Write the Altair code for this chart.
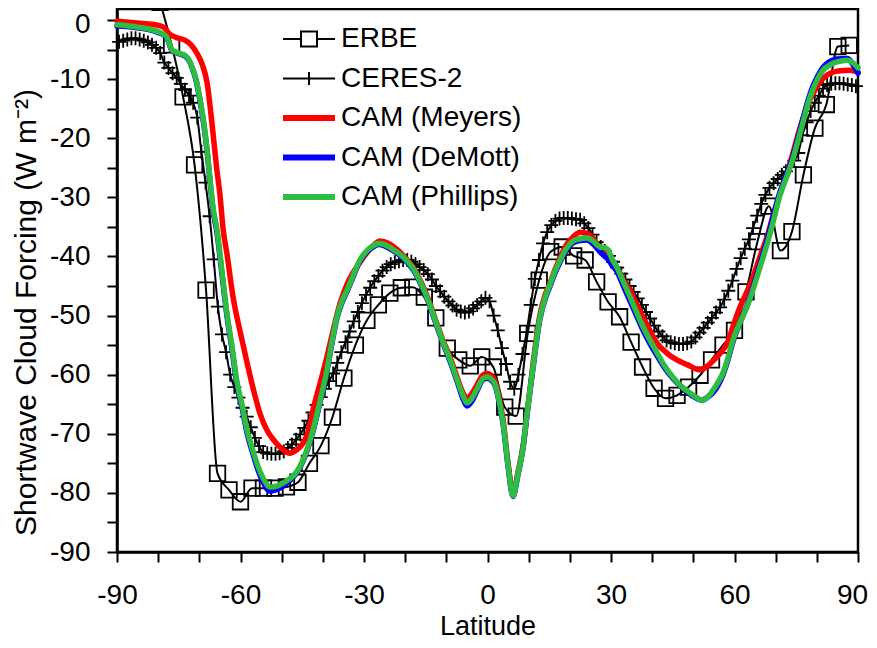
import altair as alt
import pandas as pd

# ---------------- data ----------------
series_names = ["ERBE", "CERES-2", "CAM (Meyers)", "CAM (DeMott)", "CAM (Phillips)"]
series_colors = ["#000000", "#000000", "#FF0000", "#0000FF", "#2EBD40"]

erbe_lat = [-87.86, -85.10, -82.31, -79.53, -76.74, -73.95, -71.16, -68.37, -65.58, -62.79,
            -60.00, -57.21, -54.42, -51.63, -48.84, -46.04, -43.25, -40.46, -37.67, -34.88,
            -32.09, -29.30, -26.51, -23.72, -20.93, -18.14, -15.35, -12.56, -9.77, -6.98,
            -4.19, -1.40, 1.40, 4.19, 6.98, 9.77, 12.56, 15.35, 18.14, 20.93,
            23.72, 26.51, 29.30, 32.09, 34.88, 37.67, 40.46, 43.25, 46.04, 48.84,
            51.63, 54.42, 57.21, 60.00, 62.79, 65.58, 68.37, 71.16, 73.95, 76.74,
            79.53, 82.31, 85.10, 87.86]
erbe_val = [18, 14, 9, 3, -4.2, -13, -24.5, -45.7, -76.7, -79.5,
            -81.5, -79.2, -79.2, -79.2, -79, -78.2, -75, -72, -67.2, -60.6,
            -55, -50.8, -48.2, -46.2, -45.3, -45.2, -46.9, -50.4, -55.5, -57.5,
            -58.5, -57, -58.7, -65.5, -67, -53, -44, -39.2, -38.4, -39.9,
            -40.6, -44.3, -47.7, -50.2, -54.5, -58.7, -62.3, -64, -63.5, -62.1,
            -60.1, -57.5, -55, -52.5, -46, -37.5, -31.5, -39, -35.8, -26.2,
            -18.3, -14.3, -4.5, -4.3]

ceres_lat = [-89.5 + i for i in range(180)]
ceres_val = [
    -3.7, -3.5, -3.3, -3.1, -3.1, -3.3, -3.5, -3.8, -4.2, -4.7,
    -5.6, -7.2, -8.1, -9.0, -9.8, -10.8, -11.8, -12.8, -14.0, -16.5,
    -22.3, -27.5, -33.2, -40.5, -48.5, -53.2, -56.2, -60.0, -62.1, -63.9,
    -65.6, -67.1, -68.9, -70.7, -72.1, -73.1, -73.3, -73.4, -73.4, -73.3,
    -73.0, -72.4, -71.8, -71.0, -70.1, -69.0, -67.8, -66.4, -65.1, -63.8,
    -62.4, -61.1, -59.8, -58.0, -56.2, -54.5, -52.7, -51.0, -49.4, -47.9,
    -46.5, -45.3, -44.2, -43.3, -42.4, -41.8, -41.3, -41.0, -40.8, -40.6,
    -40.6, -40.9, -41.3, -41.8, -42.3, -43.0, -43.9, -45.0, -45.9, -46.8,
    -47.6, -48.3, -49.0, -49.3, -49.5, -49.3, -48.8, -48.2, -47.6, -47.0,
    -47.6, -50.0, -52.5, -55.5, -58.2, -61.2, -62.4, -60.0, -56.5, -52.8,
    -48.2, -43.8, -40.6, -37.8, -35.9, -34.7, -34.0, -33.6, -33.5, -33.5,
    -33.6, -33.7, -33.8, -34.4, -35.2, -36.3, -37.6, -38.4, -39.1, -39.9,
    -40.9, -41.9, -42.9, -43.9, -45.0, -46.0, -47.1, -48.2, -49.4, -50.5,
    -51.7, -52.7, -53.5, -54.2, -54.5, -54.7, -54.8, -54.8, -54.7, -54.4,
    -53.7, -52.9, -52.1, -51.2, -50.4, -49.5, -48.6, -47.3, -45.8, -44.1,
    -42.1, -40.3, -38.7, -37.1, -35.2, -33.1, -31.1, -29.6, -28.4, -27.6,
    -26.9, -26.2, -25.6, -24.9, -23.8, -22.5, -19.5, -17.3, -15.4, -14.0,
    -12.8, -11.6, -11.0, -10.8, -10.7, -10.7, -10.8, -10.9, -11.0, -11.2]

meyers_lat = [-90, -85, -80, -78.5, -77.5, -76.5, -75, -73.5, -72, -70.6,
              -69.3, -68.1, -67.4, -66.7, -65.8, -65, -64.2, -63.3, -61.8, -60,
              -58.4, -56.5, -55.3, -53.5, -52, -50, -48, -46.5, -44.8, -43.5,
              -42.4, -40.5, -39, -37.5, -35.8, -34, -32.7, -31, -29.3, -27.5,
              -26.1, -24, -22, -20, -18.1, -16, -14, -12.5, -10.8, -9,
              -7.4, -6, -5, -3.8, -2.6, -1, 0, 1, 1.8, 3,
              3.8, 5, 6.2, 7.4, 8.6, 9.8, 11, 12.7, 14, 15.2,
              16.5, 17.6, 19, 20.8, 22.5, 24.9, 26.5, 28, 29.5, 31.4,
              33, 34.6, 36.2, 37.8, 39.5, 41.2, 43.5, 46, 48.5, 51.6,
              53.5, 55.7, 57, 58.2, 59.8, 61.3, 63, 64.5, 66.2, 67.9,
              69.5, 71.1, 72.7, 74.2, 75.6, 77.6, 80, 82.5, 85.6, 88,
              90]
meyers_val = [-0.2, -0.5, -0.9, -1.3, -2.2, -2.7, -3.1, -3.4, -4.2, -5.6,
              -7.5, -10.7, -14.5, -19, -25, -29.5, -35.5, -39.5, -46.9, -53,
              -58, -63.5, -66.5, -69.5, -71, -72.5, -73.3, -72.8, -71.6, -69.5,
              -66, -61, -57, -52.5, -47.9, -44.5, -42.8, -41, -39.4, -38,
              -37.4, -37.8, -38.8, -40.2, -41.8, -44.5, -47.9, -51, -54.2, -57.2,
              -60.4, -63, -64, -63.2, -61.8, -60, -59.8, -60.2, -61, -64.5,
              -67.7, -75, -80.1, -76.5, -72.2, -65.5, -58.5, -50, -46.5, -44.5,
              -42, -40.3, -38.2, -36.7, -35.9, -36.4, -37.8, -38.9, -40, -41.8,
              -44, -45.7, -48, -50.3, -52.6, -54.7, -56.3, -57.5, -58.3, -59.2,
              -58.5, -57, -56, -54.7, -51.5, -48.6, -46, -43.5, -40, -36.7,
              -32.8, -29.3, -26, -22.5, -19, -14.7, -11.3, -9.3, -8.6, -8.5,
              -8.8]

phillips_lat = [-90, -85, -80, -78, -76.6, -74.5, -73.5, -72.5, -71.8, -70.8,
                -69.8, -68.9, -68.1, -67.4, -66.7, -65.7, -64.5, -63.3, -62, -60.9,
                -59.5, -58.4, -57, -56, -54.5, -52.8, -51, -48.7, -47, -45.6,
                -44, -42.4, -40.7, -39, -37.8, -36.6, -35.3, -34.1, -32.5, -31,
                -29.5, -28, -26.5, -25, -23, -21.3, -19.5, -18.1, -16, -14,
                -12.5, -10.8, -9, -7.4, -6, -5, -3.8, -2.6, -1, 0,
                1, 1.8, 3, 3.8, 5, 6.2, 7.4, 8.6, 9.8, 11,
                12.7, 14, 15.2, 16.5, 17.6, 19, 20.8, 22.5, 24.2, 25.5,
                27.3, 28.5, 29.3, 30.3, 31.4, 33, 34.6, 36.2, 37.8, 39.5,
                41.2, 43, 45, 47, 49.2, 50.8, 52, 53.5, 54.8, 56,
                57.2, 58.4, 59.6, 61.3, 63, 64.6, 66.2, 67.8, 69.3, 71.1,
                72.7, 74.2, 75.2, 76.6, 78, 79, 80.3, 81.5, 83.2, 84.9,
                87.5, 89, 90]
phillips_val = [-0.8, -1.2, -2, -2.8, -5.1, -5.7, -6, -6.8, -7.9, -10,
                -13.5, -17.5, -22, -27, -31.6, -35.5, -42.5, -49.6, -55.5, -61,
                -65.5, -69.4, -72.8, -75, -77.5, -79, -78.8, -77.9, -77, -75.6,
                -73, -69.4, -64.5, -59.2, -54.5, -50.3, -47.5, -45.7, -43, -40.6,
                -39.2, -38.3, -37.8, -38, -38.8, -39.6, -40.8, -42, -44.8, -48.2,
                -51.2, -54.5, -57.6, -60.8, -63.5, -64.8, -64, -62.5, -60.6, -60.4,
                -60.8, -61.6, -65, -68.2, -75.3, -80.5, -76.8, -72.5, -65.5, -59,
                -50.5, -47, -44.7, -42.3, -40.7, -38.8, -37.4, -37, -36.9, -37.3,
                -38.4, -38.5, -38.9, -40.5, -41.8, -44.3, -46.8, -49.4, -51.9, -54.2,
                -56.3, -58.5, -60.4, -61.9, -63.1, -63.9, -64.3, -63.8, -62.6, -61.3,
                -59.7, -57.2, -54.2, -51.2, -48.6, -45.4, -41.8, -38.2, -34.4, -29.5,
                -26.5, -23.5, -21, -17.4, -13.8, -11.8, -9.8, -8.5, -7.6, -7.1,
                -6.8, -7.4, -8.1]

demott_lat = phillips_lat
demott_val = [-1.0, -1.3, -2.1, -2.9, -5.2, -5.8, -6.1, -6.9, -8, -10.2,
              -13.8, -17.8, -22.3, -27.3, -32, -36, -43, -50, -56, -61.5,
              -66, -69.9, -73.3, -75.6, -78.2, -79.7, -79.4, -78.3, -77.2, -75.8,
              -73.2, -69.6, -64.7, -59.4, -54.7, -50.5, -47.7, -45.9, -43.2, -40.8,
              -39.4, -38.5, -38, -38.2, -39, -39.8, -41, -42.2, -45, -48.4,
              -51.4, -54.7, -57.9, -61.1, -64, -65.3, -64.5, -62.8, -60.8, -60.6,
              -61, -61.8, -65.2, -68.4, -75.5, -80.6, -76.9, -72.6, -65.6, -59.2,
              -50.7, -47.2, -45, -42.6, -41, -39.1, -37.7, -37.3, -37.2, -37.8,
              -39.2, -40, -40.5, -41.5, -42.5, -45, -47.5, -50, -52.5, -54.8,
              -56.8, -58.8, -60.6, -62, -63.3, -64, -64.3, -63.8, -63, -61.8,
              -60, -57.5, -54.5, -51.3, -48.4, -45, -41.3, -37.5, -33.5, -29,
              -26, -23, -20.5, -16.8, -13.3, -11.3, -9.4, -8, -7, -6.6,
              -6.5, -7.8, -9]

x_ticks = list(range(-90, 91, 10))
y_ticks = list(range(-90, 1, 5))

# ---------------- build frames ----------------
def frame(lat, val, name):
    pairs = list(zip(lat, val))
    return pd.DataFrame({"lat": [p[0] for p in pairs],
                         "val": [p[1] for p in pairs],
                         "series": name})

df_erbe = frame(erbe_lat, erbe_val, "ERBE")
df_ceres = frame(ceres_lat, ceres_val, "CERES-2")
df_mey = frame(meyers_lat, meyers_val, "CAM (Meyers)")
df_dem = frame(demott_lat, demott_val, "CAM (DeMott)")
df_phi = frame(phillips_lat, phillips_val, "CAM (Phillips)")
df_all = pd.concat([df_erbe, df_ceres, df_mey, df_dem, df_phi], ignore_index=True)

FONT = "Liberation Sans"

# legend glyphs: line with square, line with plus, thick line
P_ERBE = "M-2.6,0H-0.8M0.8,0H2.6M-0.8,-0.75H0.8V0.75H-0.8Z"
P_CERES = "M-2.6,0H2.6M0,-0.65V0.65"
P_CAM = "M-2.6,-0.2H2.6M-2.6,0H2.6M-2.6,0.2H2.6"
legend_shapes = [P_ERBE, P_CERES, P_CAM, P_CAM, P_CAM]

legend = alt.Legend(
    title=None, orient="none", legendX=178, legendY=16, padding=0,
    labelFont=FONT, labelFontSize=28, labelColor="black", labelOffset=18,
    labelLimit=0, symbolSize=400, symbolStrokeWidth=2, symbolOpacity=1,
    symbolFillColor="transparent", rowPadding=11.5,
)

color_legend = alt.Color("series:N",
                         scale=alt.Scale(domain=series_names, range=series_colors),
                         legend=legend)
shape_legend = alt.Shape("series:N",
                         scale=alt.Scale(domain=series_names, range=legend_shapes),
                         legend=legend)

x = alt.X("lat:Q",
          scale=alt.Scale(domain=[-90, 90], nice=False, zero=False),
          axis=alt.Axis(values=x_ticks, title="Latitude",
                        labelExpr="datum.value % 30 === 0 ? '' + datum.value : ''",
                        labelPadding=19, labelFontSize=28, labelFlush=False,
                        labelOffset={"condition": {"test": "datum.value === 90",
                                                   "value": -6},
                                     "value": 0},
                        labelOverlap=False, titleFontSize=27,
                        titleY=82, titleBaseline="alphabetic"))
y = alt.Y("val:Q",
          scale=alt.Scale(domain=[-90, 1.86], nice=False, zero=False),
          axis=alt.Axis(values=y_ticks, title="Shortwave Cloud Forcing (W m⁻²)",
                        labelExpr="datum.value % 10 === 0 ? '' + datum.value : ''",
                        labelPadding=17, labelFontSize=28, labelOverlap=False,
                        labelOffset={"condition": {"test": "datum.value === 0",
                                                   "value": 5},
                                     "value": 0},
                        titleFontSize=30, titleX=-82, titleY=303,
                        titleAngle=270, titleAlign="center",
                        titleBaseline="alphabetic"))

erbe_line = alt.Chart(df_erbe).mark_line(
    interpolate="monotone", strokeWidth=2, color=series_colors[0], clip=True).encode(x=x, y=y)
erbe_pts = alt.Chart(df_erbe).mark_point(
    shape="square", size=240, filled=False, color=series_colors[0], strokeWidth=1.8,
    opacity=1, clip=True).encode(x=x, y=y)
ceres_line = alt.Chart(df_ceres).mark_line(
    interpolate="monotone", strokeWidth=2, color=series_colors[1]).encode(x=x, y=y)
ceres_pts = alt.Chart(df_ceres).mark_point(
    shape="M-1,0H1M0,-1V1", size=196, filled=False, color=series_colors[1],
    strokeWidth=1.8, opacity=1).encode(x=x, y=y)
cam_layers = [
    alt.Chart(d).mark_line(interpolate="monotone", strokeWidth=5.5, color=c,
                           strokeJoin="round", strokeCap="round").encode(x=x, y=y)
    for d, c in ((df_mey, series_colors[2]), (df_dem, series_colors[3]),
                 (df_phi, series_colors[4]))
]
# invisible layer whose only job is to carry the legend (colour + glyph per series)
legend_carrier = alt.Chart(df_all).mark_point(
    filled=False, opacity=0, strokeWidth=2, size=400).encode(
    x=x, y=y, color=color_legend, shape=shape_legend)

chart = alt.layer(erbe_line, erbe_pts, ceres_line, ceres_pts, *cam_layers,
                  legend_carrier).properties(
    width=741, height=543,
    autosize=alt.AutoSizeParams(type="none"),
    padding={"left": 109, "top": 1, "right": 11, "bottom": 88},
).configure_view(
    stroke="black", strokeWidth=2.5
).configure_axis(
    domainColor="black", domainWidth=2.5, tickColor="black", tickWidth=2,
    tickSize=10, labelFont=FONT, labelColor="black", titleFont=FONT,
    titleFontWeight="normal", titleColor="black", grid=False,
)

chart.save("out.html", embed_options={"renderer": "svg", "actions": False})
